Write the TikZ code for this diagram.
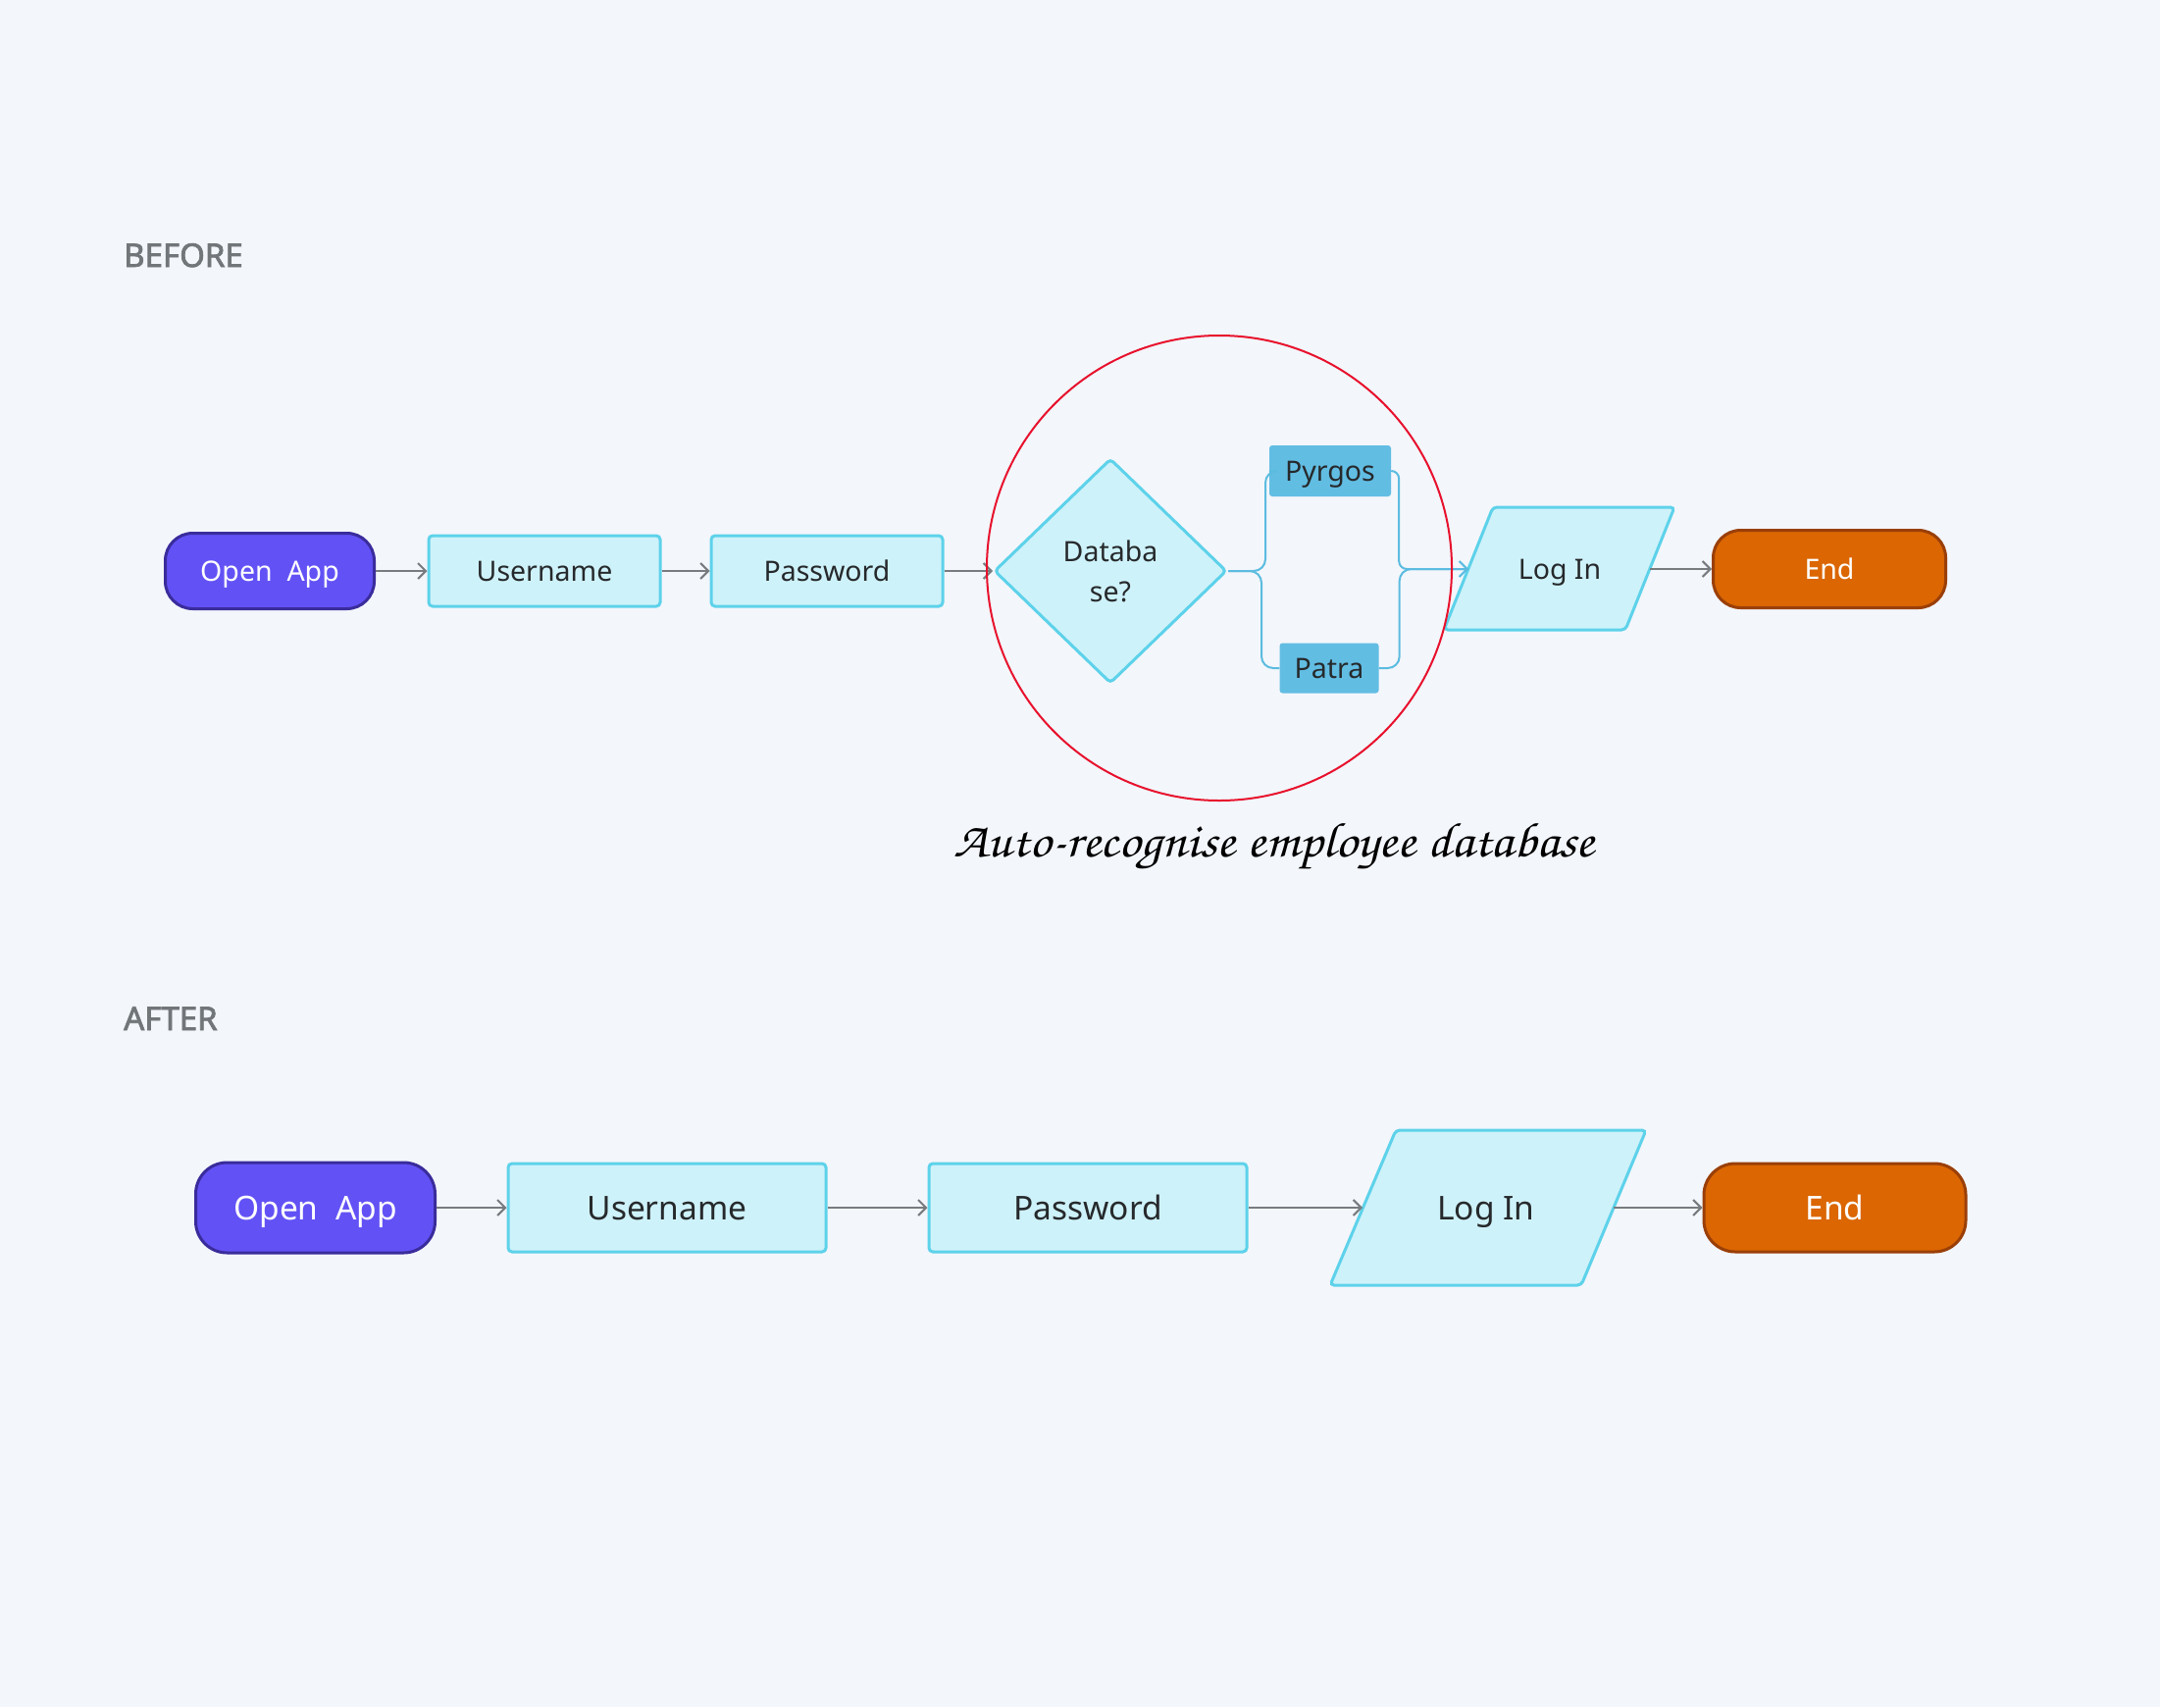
\documentclass[tikz,border=0pt]{standalone}
\usepackage[T1]{fontenc}
\usepackage{fontspec}
\setmainfont{Noto Sans}
\newfontfamily\labelfont[FakeBold=2.2]{Noto Sans}
\usetikzlibrary{shapes.geometric,arrows.meta}
\definecolor{bg}{HTML}{F3F6FB}
\definecolor{openfill}{HTML}{6252F5}
\definecolor{openborder}{HTML}{3A2C9C}
\definecolor{procfill}{HTML}{CEF2FA}
\definecolor{procborder}{HTML}{5DD2EA}
\definecolor{tagfill}{HTML}{62BDE3}
\definecolor{endfill}{HTML}{DB6602}
\definecolor{endborder}{HTML}{9A3F08}
\definecolor{arrowgrey}{HTML}{787C7E}
\definecolor{connblue}{HTML}{5BBCE0}
\definecolor{ringred}{HTML}{E8112D}
\definecolor{textdark}{HTML}{26292B}
\definecolor{labelgrey}{HTML}{717679}
\tikzset{
  fbefore/.style={font=\fontsize{28.5}{41}\selectfont, text height=20.5, text depth=0},
  fafter/.style={font=\fontsize{33.5}{40}\selectfont, text height=24, text depth=0},
  proc/.style={rectangle, rounded corners=4, fill=procfill, draw=procborder, line width=3, text=textdark},
  term/.style={rectangle, line width=3, text=white},
  tagbox/.style={rectangle, rounded corners=3, fill=tagfill, text=textdark, fbefore},
  para/.style={fill=procfill, draw=procborder, line width=3, rounded corners=4},
  arr/.style={draw=arrowgrey, line width=2, -{Straight Barb[length=8,width=16,line width=2]}},
  conn/.style={draw=connblue, line width=2, rounded corners=12},
  seclabel/.style={anchor=base west, text=labelgrey, inner sep=0, font=\labelfont\fontsize{33}{36}\selectfont},
}
\begin{document}
\begin{tikzpicture}[x=1pt,y=-1pt]
\path[fill=bg] (0,0) rectangle (2202,1740);
\useasboundingbox (0,0) rectangle (2202,1740);

% section labels
\node[seclabel] (lbefore) at (126,272) {BEFORE};
\node[seclabel] (lafter) at (126,1050) {AFTER};

% ---------------- BEFORE ----------------
\node[term, fbefore, rounded corners=28, fill=openfill, draw=openborder, minimum width=213, minimum height=77] (o1) at (275,582) {Open\ \ App};
\node[proc, fbefore, minimum width=236, minimum height=72] (u1) at (555,582) {Username};
\node[proc, fbefore, minimum width=236, minimum height=72] (p1) at (843,582) {Password};
\node[diamond, font=\fontsize{28.5}{41}\selectfont, fill=procfill, draw=procborder, line width=3, rounded corners=4, text=textdark, align=center, minimum width=237, minimum height=229, inner sep=0] (db) at (1132,582) {Databa\\se?};

\node[tagbox, minimum width=124, minimum height=52] (py) at (1356,480) {Pyrgos};
\node[tagbox, minimum width=101, minimum height=51] (pa) at (1355,681) {Patra};

% Log In parallelogram (before)
\path[para] (1522,517) -- (1707,517) -- (1657,642) -- (1472,642) -- cycle;
\node[fbefore, text=textdark] (li1) at (1590,580) {Log In};
\coordinate (li1w) at (1497,580);
\coordinate (li1e) at (1682,580);

\node[term, fbefore, rounded corners=28, fill=endfill, draw=endborder, minimum width=237, minimum height=79] (e1) at (1865,580) {End};

\draw[arr] (o1.east) -- (u1.west);
\draw[arr] (u1.east) -- (p1.west);
\draw[arr] (p1.east) -- (db.west);
\draw[arr] (li1e) -- (e1.west);

\draw[conn] (db.east) -- ++(38,0) |- (py.west);
\draw[conn] (db.east) -- ++(34,0) |- (pa.west);
\draw[conn, rounded corners=8] (py.east) -- ++(8,0) |- (li1w);
\draw[conn, -{Straight Barb[length=8,width=16,line width=2]}] (pa.east) -- ++(21,0) |- (li1w);

% red ring
\node[circle, draw=ringred, line width=2, minimum size=474, inner sep=0] (ring) at (1243,579) {};

\node[anchor=base west, text=black, inner sep=0, font=\fontencoding{T1}\fontfamily{pzc}\fontseries{mb}\fontshape{it}\fontsize{50}{54}\selectfont] (cap) at (972,873) {\scalebox{1.1}[1]{Auto-recognise employee database}};

% ---------------- AFTER ----------------
\node[term, fafter, rounded corners=32, fill=openfill, draw=openborder, minimum width=244, minimum height=92] (o2) at (321.5,1231) {Open\ \ App};
\node[proc, fafter, minimum width=324, minimum height=90] (u2) at (680,1231) {Username};
\node[proc, fafter, minimum width=324, minimum height=90] (p2) at (1109,1231) {Password};

\path[para] (1423,1152) -- (1678,1152) -- (1612,1310) -- (1356,1310) -- cycle;
\node[fafter, text=textdark] (li2) at (1515,1231) {Log In};
\coordinate (li2w) at (1389,1231);
\coordinate (li2e) at (1645,1231);

\node[term, fafter, rounded corners=32, fill=endfill, draw=endborder, minimum width=267, minimum height=90] (e2) at (1870.5,1231) {End};

\draw[arr] (o2.east) -- (u2.west);
\draw[arr] (u2.east) -- (p2.west);
\draw[arr] (p2.east) -- (li2w);
\draw[arr] (li2e) -- (e2.west);
\end{tikzpicture}
\end{document}
